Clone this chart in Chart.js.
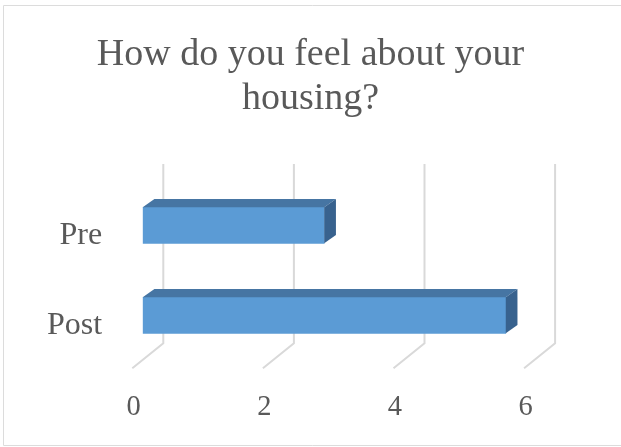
<!DOCTYPE html>
<html>
<head>
<meta charset="utf-8">
<script src="https://cdn.jsdelivr.net/npm/chart.js@4"></script>
<style>
  body { margin: 0; background: white; overflow: hidden; }
  .wrap { position: absolute; left: 0; top: 0; width: 621px; height: 447px; }
</style>
</head>
<body>
<div class="wrap"><canvas id="canvas"></canvas></div>
<script>
/* data */
const categories = ['Pre', 'Post'];
const values = [2.78, 5.56];
const tickValues = [0, 2, 4, 6];
const titleLines = ['How do you feel about your', 'housing?'];

const serif = 'Liberation Serif';
const textColor = '#595959';

// 3d depth of the bars
const barDepth = { dx: 11.7, dy: -8.3 };

/* light frame round the chart (open on the right, as in the picture) */
const frame = {
  id: 'frame',
  beforeDraw(chart) {
    const ctx = chart.ctx;
    ctx.save();
    ctx.strokeStyle = '#dcdcdc';
    ctx.lineWidth = 1;
    ctx.beginPath();
    ctx.moveTo(chart.width, 5.5);
    ctx.lineTo(3.5, 5.5);
    ctx.lineTo(3.5, 445.5);
    ctx.lineTo(chart.width, 445.5);
    ctx.stroke();
    ctx.restore();
  }
};

/* back wall gridlines with the slanted foot */
const grid3d = {
  id: 'grid3d',
  beforeDatasetsDraw(chart) {
    const ctx = chart.ctx;
    const xs = chart.scales.x;
    const area = chart.chartArea;
    ctx.save();
    ctx.strokeStyle = '#d9d9d9';
    ctx.lineWidth = 2;
    tickValues.forEach(function (v) {
      const bx = xs.getPixelForValue(v) + 20.6;
      ctx.beginPath();
      ctx.moveTo(bx, area.top - 16.3);
      ctx.lineTo(bx, area.bottom - 17);
      ctx.lineTo(bx - 31, area.bottom + 8);
      ctx.stroke();
    });
    ctx.restore();
  }
};

/* top and side faces of the bars */
const bars3d = {
  id: 'bars3d',
  afterDatasetsDraw(chart) {
    const ctx = chart.ctx;
    const meta = chart.getDatasetMeta(0);
    const dx = barDepth.dx, dy = barDepth.dy;
    ctx.save();
    meta.data.forEach(function (bar) {
      const p = bar.getProps(['x', 'y', 'base', 'height'], true);
      const x0 = p.base, x1 = p.x;
      const yt = p.y - p.height / 2, yb = p.y + p.height / 2;
      ctx.fillStyle = '#4675a3';
      ctx.beginPath();
      ctx.moveTo(x0, yt);
      ctx.lineTo(x0 + dx, yt + dy);
      ctx.lineTo(x1 + dx, yt + dy);
      ctx.lineTo(x1, yt);
      ctx.closePath();
      ctx.fill();
      ctx.fillStyle = '#38628e';
      ctx.beginPath();
      ctx.moveTo(x1, yt);
      ctx.lineTo(x1 + dx, yt + dy);
      ctx.lineTo(x1 + dx, yb + dy);
      ctx.lineTo(x1, yb);
      ctx.closePath();
      ctx.fill();
    });
    ctx.restore();
  }
};

const ctx = document.getElementById('canvas');
new Chart(ctx, {
  type: 'bar',
  data: {
    labels: categories,
    datasets: [{
      data: values,
      backgroundColor: '#5b9bd5',
      borderWidth: 0,
      barThickness: 36
    }]
  },
  options: {
    indexAxis: 'y',
    responsive: true,
    maintainAspectRatio: false,
    animation: false,
    layout: { padding: 0 },
    plugins: {
      legend: { display: false },
      tooltip: { enabled: false },
      title: {
        display: true,
        text: titleLines,
        color: textColor,
        font: { family: serif, size: 38, weight: 'normal', lineHeight: 1.15 },
        padding: { top: 33, bottom: 59.9 }
      }
    },
    scales: {
      x: {
        min: 0,
        max: 6,
        afterBuildTicks(scale) {
          scale.ticks = tickValues.map(function (v) { return { value: v }; });
        },
        afterFit(scale) { scale.height = 86.7; },
        grid: { display: false },
        border: { display: false },
        ticks: {
          color: textColor,
          font: { family: serif, size: 28.5 },
          padding: 22.3,
          labelOffset: -9,
          maxRotation: 0
        }
      },
      y: {
        afterFit(scale) { scale.width = 142.7; },
        grid: { display: false },
        border: { display: false },
        ticks: {
          color: textColor,
          font: { family: serif, size: 32 },
          padding: 32.5,
          labelOffset: 10
        }
      },
      // empty right side so the plot ends where the 3d wall ends
      yRight: {
        type: 'category',
        position: 'right',
        afterFit(scale) { scale.width = 86.5; },
        grid: { display: false },
        border: { display: false },
        ticks: { display: false }
      }
    }
  },
  plugins: [frame, grid3d, bars3d]
});
</script>
</body>
</html>
